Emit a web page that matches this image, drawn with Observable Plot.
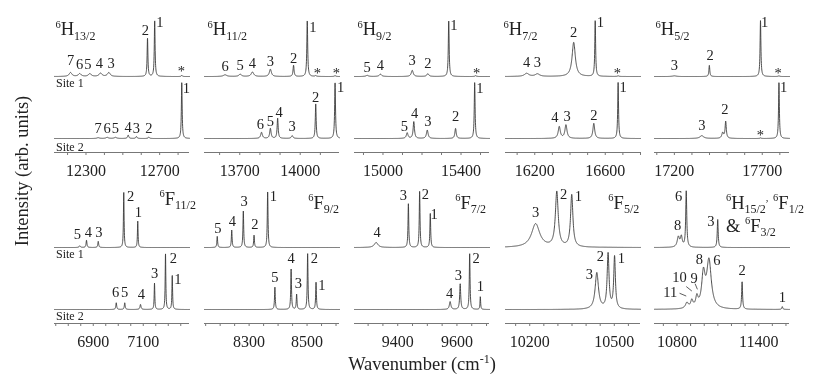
<!DOCTYPE html>
<html><head><meta charset="utf-8">
<script src="https://cdn.jsdelivr.net/npm/d3@7"></script>
<script src="https://cdn.jsdelivr.net/npm/@observablehq/plot@0.6"></script>
<style>
body{margin:0;background:#fff;}
#chart{position:relative;width:830px;height:382px;overflow:hidden;font-family:"Liberation Serif","DejaVu Serif",serif;}
#chart .cell{position:absolute;will-change:transform;background:transparent;}
#chart svg, #chart svg text{font-family:"Liberation Serif","DejaVu Serif",serif !important;}
[aria-label="x-axis tick"]{stroke:#777;}
</style></head>
<body><div id="chart"></div>
<script>
// ---------- data ----------
// peaks: [wavenumber, relative height, FWHM]; labels: [wavenumber, level above site baseline, text]
const OFFSET = 1.107;          // vertical offset of the Site 1 trace
const Y_DOMAIN = [-0.25, 2.25];

// 6H13/2
const h13_domain = [12129, 12862];
const h13_ticklabels = [12300, 12700];
const h13_s1 = [[12673,1,5],[12634,0.68,5],[12216,0.07,18],[12266,0.05,18],[12321,0.05,18],[12379,0.06,18],[12424,0.07,18],[12820,0.02,6]];
const h13_s1_lab = [[12701,0.97,"1"],[12623,0.82,"2"],[12216,0.29,"7"],[12266,0.21,"6"],[12310,0.21,"5"],[12373,0.24,"4"],[12437,0.24,"3"],[12818,0.09,"*"]];
const h13_s2 = [[12820,1,5],[12366,0.015,15],[12415,0.02,15],[12460,0.02,15],[12529,0.06,8],[12574,0.035,8],[12641,0.025,8]];
const h13_s2_lab = [[12845,0.9,"1"],[12366,0.18,"7"],[12415,0.18,"6"],[12460,0.18,"5"],[12529,0.2,"4"],[12574,0.18,"3"],[12641,0.18,"2"]];
const h13_state = [[12134,1.84,"^{6}H_{13/2}"]];
const h13_sites = [[12137,0.98,"Site 1"],[12137,-0.15,"Site 2"]];

// 6H11/2
const h11_domain = [13525, 14195];
const h11_ticklabels = [13700, 14000];
const h11_s1 = [[14035,1,5],[13967,0.2,6],[13852,0.13,12],[13763,0.08,15],[13702,0.04,15],[13627,0.03,20],[14077,0.015,8],[14173,0.015,8]];
const h11_s1_lab = [[14063,0.88,"1"],[13967,0.32,"2"],[13852,0.27,"3"],[13763,0.23,"4"],[13702,0.2,"5"],[13627,0.18,"6"],[14085,0.06,"*"],[14180,0.06,"*"]];
const h11_s2 = [[14173,1,5],[14077,0.62,5],[13960,0.05,10],[13888,0.36,6],[13852,0.18,8],[13808,0.11,10]];
const h11_s2_lab = [[14200,0.91,"1"],[14077,0.74,"2"],[13960,0.22,"3"],[13895,0.46,"4"],[13852,0.31,"5"],[13802,0.26,"6"]];
const h11_state = [[13540,1.84,"^{6}H_{11/2}"]];

// 6H9/2
const h9_domain = [14854, 15546];
const h9_ticklabels = [15000, 15400];
const h9_s1 = [[15337,1,5],[15230,0.05,12],[15150,0.11,12],[14987,0.04,15],[14919,0.02,15],[15475,0.015,8]];
const h9_s1_lab = [[15363,0.91,"1"],[15230,0.23,"2"],[15150,0.29,"3"],[14987,0.2,"4"],[14919,0.17,"5"],[15480,0.06,"*"]];
const h9_s2 = [[15470,1,5],[15372,0.18,8],[15227,0.15,10],[15158,0.3,8],[15124,0.1,10]];
const h9_s2_lab = [[15497,0.9,"1"],[15372,0.39,"2"],[15230,0.3,"3"],[15162,0.45,"4"],[15110,0.22,"5"]];
const h9_state = [[14869,1.84,"^{6}H_{9/2}"]];

// 6H7/2
const h7_domain = [16034, 16800];
const h7_ticklabels = [16200, 16600];
const h7_s1 = [[16543,1,5.5],[16421,0.61,22],[16215,0.045,30],[16154,0.055,30],[16673,0.012,8]];
const h7_s1_lab = [[16573,0.97,"1"],[16421,0.79,"2"],[16215,0.25,"3"],[16154,0.25,"4"],[16669,0.06,"*"]];
const h7_s2 = [[16673,1,5.5],[16535,0.27,12],[16377,0.24,14],[16339,0.21,14]];
const h7_s2_lab = [[16701,0.91,"1"],[16535,0.42,"2"],[16383,0.4,"3"],[16314,0.38,"4"]];
const h7_state = [[16023,1.84,"^{6}H_{7/2}"]];

// 6H5/2
const h5_domain = [17087, 17855];
const h5_ticklabels = [17200, 17700];
const h5_s1 = [[17690,1,5.5],[17399,0.2,6],[17200,0.012,25],[17795,0.012,8]];
const h5_s1_lab = [[17714,0.97,"1"],[17403,0.38,"2"],[17200,0.2,"3"],[17790,0.06,"*"]];
const h5_s2 = [[17795,1,5.5],[17492,0.3,8],[17475,0.1,12],[17356,0.05,25],[17690,0.01,8]];
const h5_s2_lab = [[17821,0.91,"1"],[17488,0.52,"2"],[17356,0.24,"3"],[17690,0.05,"*"]];
const h5_state = [[17093,1.84,"^{6}H_{5/2}"]];

// 6F11/2
const f11_domain = [6745, 7285];
const f11_ticklabels = [6900, 7100];
const f11_s1 = [[7022,1,3],[7078,0.47,3],[6920,0.11,4],[6873,0.13,4],[6846,0.03,6]];
const f11_s1_lab = [[7049,0.92,"2"],[7080,0.62,"1"],[6922,0.27,"3"],[6880,0.27,"4"],[6836,0.24,"5"]];
const f11_s2 = [[7189,1,3],[7216,0.61,3],[7145,0.47,3],[7089,0.09,5],[7026,0.12,4],[6992,0.12,4]];
const f11_s2_lab = [[7238,0.53,"1"],[7220,0.92,"2"],[7145,0.64,"3"],[7092,0.27,"4"],[7025,0.3,"5"],[6989,0.3,"6"]];
const f11_state = [[7165,1.87,"^{6}F_{11/2}"]];
const f11_sites = [[6751,0.99,"Site 1"],[6751,-0.12,"Site 2"]];

// 6F9/2
const f9_domain = [8146, 8612];
const f9_ticklabels = [8300, 8500];
const f9_s1 = [[8364,1,3],[8280,0.65,3],[8317,0.22,3],[8240,0.31,3],[8190,0.2,3]];
const f9_s1_lab = [[8384,0.92,"1"],[8283,0.83,"3"],[8320,0.42,"2"],[8242,0.46,"4"],[8192,0.34,"5"]];
const f9_s2 = [[8389,0.4,3],[8445,0.72,3],[8464,0.27,3],[8502,1,3],[8531,0.49,3]];
const f9_s2_lab = [[8389,0.58,"5"],[8445,0.91,"4"],[8470,0.46,"3"],[8525,0.92,"2"],[8551,0.43,"1"]];
const f9_state = [[8504,1.8,"^{6}F_{9/2}"]];

// 6F7/2
const f7_domain = [9254, 9710];
const f7_ticklabels = [9400, 9600];
const f7_s1 = [[9327,0.09,15],[9436,0.78,3],[9474,1,3],[9510,0.61,3]];
const f7_s1_lab = [[9330,0.27,"4"],[9419,0.93,"3"],[9493,0.95,"2"],[9523,0.59,"1"]];
const f7_s2 = [[9577,0.14,6],[9611,0.46,4],[9643,1,3],[9679,0.23,2.5]];
const f7_s2_lab = [[9575,0.28,"4"],[9605,0.61,"3"],[9665,0.91,"2"],[9679,0.41,"1"]];
const f7_state = [[9594,1.8,"^{6}F_{7/2}"]];

// 6F5/2
const f5_domain = [10114, 10593];
const f5_ticklabels = [10200, 10500];
const f5_s1 = [[10221,0.42,35],[10296,0.98,12],[10349,0.93,10]];
const f5_s1_lab = [[10221,0.62,"3"],[10320,0.95,"2"],[10373,0.92,"1"]];
const f5_s2 = [[10438,0.65,14],[10478,0.98,8],[10501,0.93,7]];
const f5_s2_lab = [[10412,0.63,"3"],[10451,0.95,"2"],[10525,0.92,"1"]];
const f5_state = [[10479,1.8,"^{6}F_{5/2}"]];

// 6H15/2, 6F1/2 & 6F3/2
const f1_domain = [10635, 11626];
const f1_ticklabels = [10800, 11400];
const f1_s1 = [[10810,0.18,20],[10832,0.18,16],[10868,1,9],[11099,0.5,8]];
const f1_s1_lab = [[10812,0.92,"6"],[10804,0.39,"8"],[11048,0.47,"3"]];
const f1_s2 = [[10873,0.1,25],[10909,0.13,20],[10946,0.18,20],[10994,0.58,30],[11035,0.85,40],[11278,0.49,8],[11573,0.05,8]];
const f1_s2_lab = [[10965,0.9,"8"],[11092,0.88,"6"],[10819,0.58,"10"],[10926,0.55,"9"],[10751,0.31,"11"],[11278,0.7,"2"],[11573,0.21,"1"]];
const f1_leaders = [[10868,0.41,10909,0.33],[10933,0.46,10950,0.36],[10819,0.29,10868,0.24]];
const f1_state = [[11159,1.8,"^{6}H_{15/2}^{,} ^{6}F_{1/2}"],[11159,1.39,"& ^{6}F_{3/2}"]];

// ---------- layout ----------
const panels = [
  {domain:h13_domain, step:100, tl:h13_ticklabels, s1:h13_s1, s2:h13_s2, l1:h13_s1_lab, l2:h13_s2_lab, state:h13_state, sites:h13_sites, left:54, top:0},
  {domain:h11_domain, step:100, tl:h11_ticklabels, s1:h11_s1, s2:h11_s2, l1:h11_s1_lab, l2:h11_s2_lab, state:h11_state, left:204, top:0},
  {domain:h9_domain, step:100, tl:h9_ticklabels, s1:h9_s1, s2:h9_s2, l1:h9_s1_lab, l2:h9_s2_lab, state:h9_state, left:354, top:0},
  {domain:h7_domain, step:100, tl:h7_ticklabels, s1:h7_s1, s2:h7_s2, l1:h7_s1_lab, l2:h7_s2_lab, state:h7_state, left:505, top:0},
  {domain:h5_domain, step:100, tl:h5_ticklabels, s1:h5_s1, s2:h5_s2, l1:h5_s1_lab, l2:h5_s2_lab, state:h5_state, left:654, top:0},
  {domain:f11_domain, step:50, tl:f11_ticklabels, s1:f11_s1, s2:f11_s2, l1:f11_s1_lab, l2:f11_s2_lab, state:f11_state, sites:f11_sites, left:54, top:171},
  {domain:f9_domain, step:50, tl:f9_ticklabels, s1:f9_s1, s2:f9_s2, l1:f9_s1_lab, l2:f9_s2_lab, state:f9_state, left:204, top:171},
  {domain:f7_domain, step:50, tl:f7_ticklabels, s1:f7_s1, s2:f7_s2, l1:f7_s1_lab, l2:f7_s2_lab, state:f7_state, left:354, top:171},
  {domain:f5_domain, step:50, tl:f5_ticklabels, s1:f5_s1, s2:f5_s2, l1:f5_s1_lab, l2:f5_s2_lab, state:f5_state, left:505, top:171},
  {domain:f1_domain, step:100, tl:f1_ticklabels, s1:f1_s1, s2:f1_s2, l1:f1_s1_lab, l2:f1_s2_lab, state:f1_state, leaders:f1_leaders, left:654, top:171}
];

const FONT = "'Liberation Serif', 'DejaVu Serif', serif";

// trace drawn from the read peak list (Lorentzian profiles)
function trace(peaks, domain, n = 1200) {
  const [a, b] = domain;
  return d3.range(n + 1).map(i => {
    const x = a + (b - a) * i / n;
    let y = 0;
    for (const [c, h, w] of peaks) { const t = (x - c) / (w / 2); y += h / (1 + t * t); }
    return {x, y};
  });
}

const NS = "http://www.w3.org/2000/svg";
function richify(svg) {
  svg.querySelectorAll("text").forEach(t => {
    const s = t.textContent;
    if (!/[\^_]\{/.test(s)) return;
    t.textContent = "";
    let shift = 0;
    for (const m of s.matchAll(/\^\{([^}]*)\}|_\{([^}]*)\}|([^\^_]+)/g)) {
      const ts = document.createElementNS(NS, "tspan");
      let target = 0, size = null, txt;
      if (m[1] !== undefined) { target = -7.5; size = 10.5; txt = m[1]; }
      else if (m[2] !== undefined) { target = 4.5; size = 12; txt = m[2]; }
      else { txt = m[3]; }
      if (target !== shift) ts.setAttribute("dy", target - shift);
      shift = target;
      if (size) ts.setAttribute("font-size", size);
      ts.textContent = txt;
      t.appendChild(ts);
    }
  });
}

const chart = document.getElementById("chart");
const ML = 20, MR = 20, W = 135;
for (const p of panels) {
  const labelSet = new Set(p.tl);
  const ticks = d3.range(Math.ceil(p.domain[0] / p.step) * p.step, p.domain[1] + 0.5, p.step);
  const marks = [
    Plot.ruleY([Y_DOMAIN[0]], {stroke: "#777", strokeWidth: 1}),
    Plot.line(trace(p.s2, p.domain), {x: "x", y: "y", stroke: "#3a3a3a", strokeWidth: 0.9}),
    Plot.line(trace(p.s1, p.domain), {x: "x", y: d => d.y + OFFSET, stroke: "#3a3a3a", strokeWidth: 0.9}),
    Plot.text(p.l1, {x: d => d[0], y: d => d[1] + OFFSET, text: d => d[2], fontSize: 14.5, fontFamily: FONT}),
    Plot.text(p.l2, {x: d => d[0], y: d => d[1], text: d => d[2], fontSize: 14.5, fontFamily: FONT}),
    Plot.text(p.state, {x: d => d[0], y: d => d[1], text: d => d[2], textAnchor: "start", lineAnchor: "bottom", fontSize: 18.5, fontFamily: FONT})
  ];
  if (p.sites) marks.push(Plot.text(p.sites, {x: d => d[0], y: d => d[1], text: d => d[2], textAnchor: "start", fontSize: 12, fontFamily: FONT}));
  if (p.leaders) marks.push(Plot.link(p.leaders, {x1: d => d[0], y1: d => d[1], x2: d => d[2], y2: d => d[3], stroke: "#333", strokeWidth: 0.8}));
  const svg = Plot.plot({
    width: W + ML + MR, height: 182,
    marginLeft: ML, marginRight: MR, marginTop: 12, marginBottom: 30,
    x: {domain: p.domain, ticks, tickFormat: d => labelSet.has(d) ? String(d) : "", tickSize: 3, tickPadding: 9, label: null},
    y: {domain: Y_DOMAIN, axis: null},
    style: {fontFamily: FONT, fontSize: "16px", color: "#222", overflow: "visible", background: "transparent"},
    marks
  });
  richify(svg);
  const cell = document.createElement("div");
  cell.className = "cell";
  cell.style.left = (p.left - ML) + "px";
  cell.style.top = p.top + "px";
  cell.style.width = (W + ML + MR) + "px";
  cell.appendChild(svg);
  chart.appendChild(cell);
}

// axis titles
const ovWrap = document.createElement("div");
ovWrap.className = "cell";
ovWrap.style.left = "0px"; ovWrap.style.top = "0px";
const ov = d3.create("svg").attr("width", 830).attr("height", 382)
  .style("overflow", "visible").attr("font-family", FONT).attr("fill", "#222");
const xt = ov.append("text").attr("x", 422).attr("y", 370).attr("text-anchor", "middle").attr("font-size", 18.5);
xt.append("tspan").text("Wavenumber (cm");
xt.append("tspan").attr("dy", -7).attr("font-size", 12).text("-1");
xt.append("tspan").attr("dy", 7).text(")");
ov.append("text").attr("transform", "translate(28,171) rotate(-90)").attr("text-anchor", "middle").attr("font-size", 18.5).text("Intensity (arb. units)");
ovWrap.appendChild(ov.node());
chart.appendChild(ovWrap);
</script>
</body></html>
